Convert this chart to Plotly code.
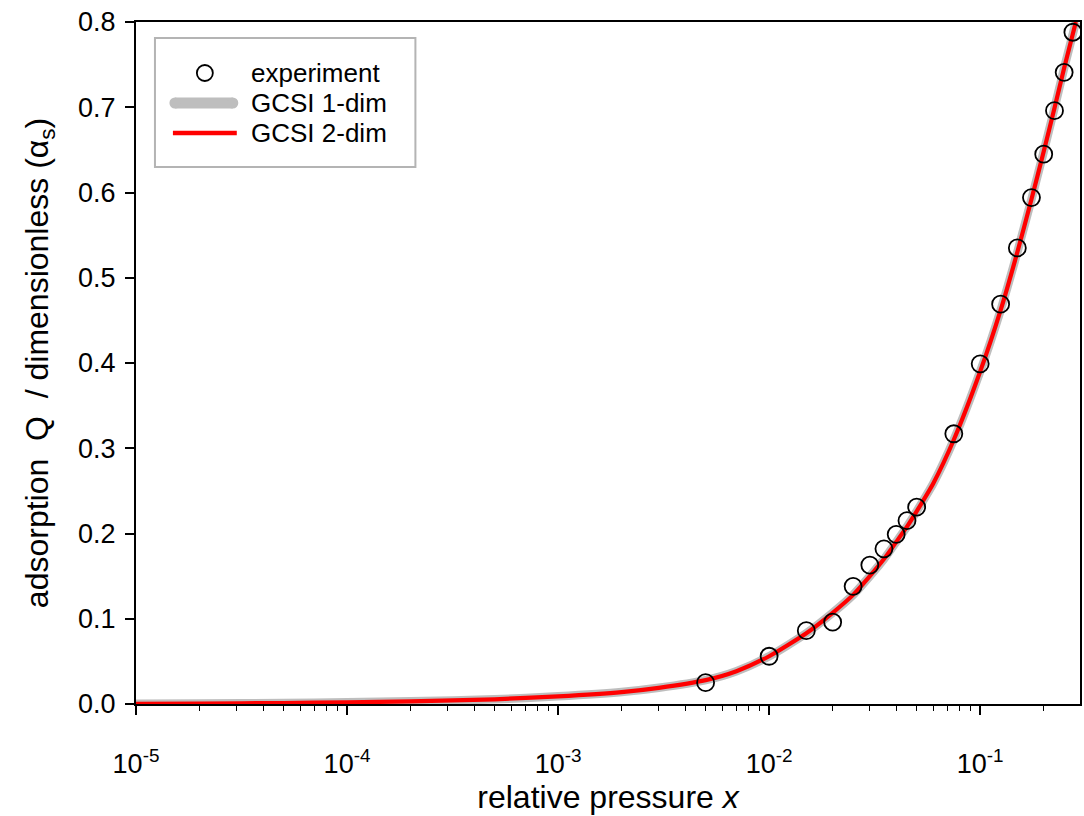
import plotly.graph_objects as go

# Measured adsorption data (relative pressure vs. dimensionless adsorption)
x_exp = [0.005, 0.010, 0.015, 0.020, 0.025, 0.030, 0.035, 0.040, 0.045, 0.050,
         0.075, 0.100, 0.125, 0.150, 0.175, 0.200, 0.225, 0.250, 0.275]
q_exp = [0.025, 0.056, 0.086, 0.096, 0.138, 0.163, 0.182, 0.199, 0.215, 0.231,
         0.317, 0.399, 0.469, 0.535, 0.594, 0.645, 0.696, 0.741, 0.788]

# GCSI model curves
x_fit = [1e-5, 2e-5, 5e-5, 1e-4, 2e-4, 5e-4, 1e-3, 2e-3, 3e-3, 5e-3, 7e-3,
         0.010, 0.015, 0.020, 0.025, 0.030, 0.035, 0.040, 0.045, 0.050, 0.060,
         0.075, 0.100, 0.125, 0.150, 0.175, 0.200, 0.225, 0.250, 0.284]
q_fit_1d = [0.0003, 0.0006, 0.0012, 0.0020, 0.0031, 0.0055, 0.0090, 0.0140, 0.0190,
            0.0280, 0.0385, 0.0560, 0.0830, 0.1070, 0.1280, 0.1500, 0.1700, 0.1900,
            0.2080, 0.2260, 0.2590, 0.3100, 0.3900, 0.4620, 0.5300, 0.5920, 0.6480,
            0.6990, 0.7460, 0.8000]
q_fit_2d = [0.0003, 0.0006, 0.0012, 0.0020, 0.0031, 0.0055, 0.0090, 0.0140, 0.0190,
            0.0280, 0.0385, 0.0560, 0.0830, 0.1070, 0.1280, 0.1500, 0.1700, 0.1900,
            0.2080, 0.2260, 0.2590, 0.3100, 0.3900, 0.4620, 0.5300, 0.5920, 0.6480,
            0.6990, 0.7460, 0.8000]

series_names = ["experiment", "GCSI 1-dim", "GCSI 2-dim"]

x_major = [1e-5, 1e-4, 1e-3, 1e-2, 1e-1]
x_major_text = ["10<sup>-5</sup>", "10<sup>-4</sup>", "10<sup>-3</sup>",
                "10<sup>-2</sup>", "10<sup>-1</sup>"]
x_minor = [m * d for d in [1e-5, 1e-4, 1e-3, 1e-2, 1e-1] for m in range(2, 10)
           if m * d < 0.3]
y_ticks = [0.0, 0.1, 0.2, 0.3, 0.4, 0.5, 0.6, 0.7, 0.8]

FONT = "Arial, Liberation Sans, sans-serif"
GRAY = "#bebebe"
RED = "#ff0000"

# figure geometry (px)
W, H = 1084, 816
ML, MR, MT, MB = 136, 2, 22, 112
PW, PH = W - ML - MR, H - MT - MB


def px_to_paper(px, py):
    return (px - ML) / PW, (H - MB - py) / PH


fig = go.Figure()
fig.add_trace(go.Scatter(
    x=x_fit, y=q_fit_1d, mode="lines", name=series_names[1],
    line=dict(color=GRAY, width=8.5, shape="spline", smoothing=0.6),
))
fig.add_trace(go.Scatter(
    x=x_fit, y=q_fit_2d, mode="lines", name=series_names[2],
    line=dict(color=RED, width=4.2, shape="spline", smoothing=0.6),
))
fig.add_trace(go.Scatter(
    x=x_exp, y=q_exp, mode="markers", name=series_names[0],
    marker=dict(symbol="circle-open", size=17, color="black",
                line=dict(width=1.8, color="black")),
))

# legend box drawn with shapes and annotations
shapes = []
annotations = []
bx0, by0 = px_to_paper(155, 167)
bx1, by1 = px_to_paper(416, 38)
shapes.append(dict(type="rect", xref="paper", yref="paper",
                   x0=bx0, y0=by0, x1=bx1, y1=by1,
                   line=dict(color="#b4b4b4", width=2), fillcolor="white",
                   layer="above"))
row_y = [73, 103, 133]
# marker sample
cx, cy = px_to_paper(205, row_y[0])
shapes.append(dict(type="circle", xref="paper", yref="paper",
                   xsizemode="pixel", ysizemode="pixel",
                   xanchor=cx, yanchor=cy, x0=-8, x1=8, y0=-8, y1=8,
                   line=dict(color="black", width=1.8), layer="above"))
# thick gray sample with rounded ends
gx0, gy = px_to_paper(175, row_y[1])
gx1, _ = px_to_paper(233, row_y[1])
shapes.append(dict(type="line", xref="paper", yref="paper",
                   x0=gx0, x1=gx1, y0=gy, y1=gy,
                   line=dict(color=GRAY, width=11), layer="above"))
for gx in (gx0, gx1):
    shapes.append(dict(type="circle", xref="paper", yref="paper",
                       xsizemode="pixel", ysizemode="pixel",
                       xanchor=gx, yanchor=gy, x0=-5.5, x1=5.5, y0=-5.5, y1=5.5,
                       line=dict(width=0), fillcolor=GRAY, layer="above"))
# red sample
rx0, ry = px_to_paper(173, row_y[2])
rx1, _ = px_to_paper(237, row_y[2])
shapes.append(dict(type="line", xref="paper", yref="paper",
                   x0=rx0, x1=rx1, y0=ry, y1=ry,
                   line=dict(color=RED, width=4.5), layer="above"))
for name, yy in zip(series_names, row_y):
    tx, ty = px_to_paper(249, yy)
    annotations.append(dict(text=name, xref="paper", yref="paper", x=tx, y=ty,
                            xanchor="left", yanchor="middle", showarrow=False,
                            font=dict(size=26, family=FONT, color="black")))

fig.update_layout(
    width=W, height=H,
    margin=dict(l=ML, r=MR, t=MT, b=MB),
    paper_bgcolor="white", plot_bgcolor="white",
    font=dict(family=FONT, size=26, color="black"),
    showlegend=False,
    shapes=shapes, annotations=annotations,
)

fig.update_xaxes(
    type="log", range=[-5, -0.527],
    tickvals=x_major, ticktext=x_major_text,
    ticks="outside", ticklen=9, tickwidth=1.8, tickcolor="black",
    minor=dict(tickvals=x_minor, ticks="outside", ticklen=5, tickwidth=1.2, tickcolor="black"),
    showline=True, linecolor="black", linewidth=2, mirror=True,
    showgrid=False, zeroline=False,
    tickfont=dict(size=27), ticklabelstandoff=26,
    title=dict(text="relative pressure <i>x</i>", font=dict(size=32), standoff=6),
)
fig.update_yaxes(
    range=[0, 0.8], tickvals=y_ticks, tickformat=".1f",
    ticks="outside", ticklen=9, tickwidth=1.8, tickcolor="black",
    showline=True, linecolor="black", linewidth=2, mirror=True,
    showgrid=False, zeroline=False,
    tickfont=dict(size=27), ticklabelstandoff=4,
    title=dict(text="adsorption  Q  / dimensionless (α<sub>s</sub>)",
               font=dict(size=32), standoff=20),
)

fig.write_html("out.html")
